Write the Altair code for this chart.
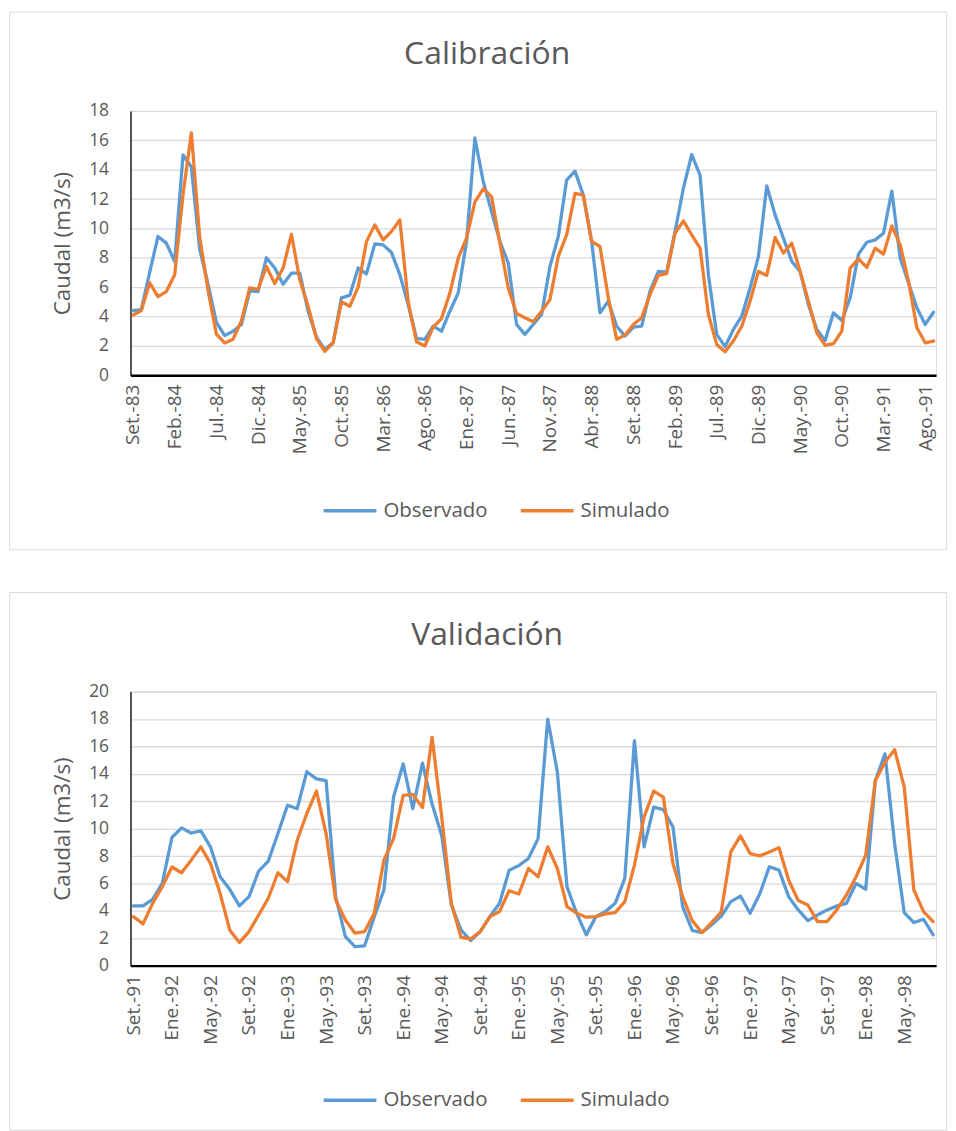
import altair as alt
import pandas as pd

# ---------------- data ----------------
MESES = ["Ene.", "Feb.", "Mar.", "Abr.", "May.", "Jun.", "Jul.", "Ago.", "Set.", "Oct.", "Nov.", "Dic."]

# Calibración: Set.-83 ... Set.-91 (monthly)
cal_obs = [4.4, 4.47, 7.0, 9.45, 9.0, 7.75, 15.0, 14.2, 8.6, 6.2, 3.6, 2.7, 3.0, 3.45, 5.75, 5.7,
           8.0, 7.3, 6.2, 6.95, 6.95, 4.36,
           2.6, 1.76, 2.21, 5.27, 5.45, 7.3, 6.9, 8.95, 8.88, 8.36, 6.85, 4.81, 2.51, 2.44, 3.34, 3.0,
           4.36, 5.6, 9.1, 16.16, 13.2, 11.14, 9.1, 7.64,
           3.46, 2.78, 3.46, 4.14, 7.41, 9.45, 13.29, 13.9, 12.27, 9.11, 4.25, 5.04, 3.34, 2.67, 3.28,
           3.34, 5.72, 7.07, 7.03, 9.79, 12.72, 15.03, 13.63, 6.85, 2.78,
           1.95, 3.12, 4.02, 5.94, 8.09, 12.9, 10.92, 9.33, 7.75, 7.07, 4.81, 3.12, 2.37, 4.25, 3.73,
           5.27, 8.25, 9.06, 9.22, 9.67, 12.54, 7.98, 6.28, 4.59, 3.46, 4.29]
cal_sim = [4.1, 4.4, 6.3, 5.35, 5.7, 6.85, 12.3, 16.5, 9.4, 5.8, 2.8, 2.2, 2.45, 3.7, 5.95, 5.85,
           7.4, 6.25, 7.3, 9.6, 6.5, 4.7,
           2.5, 1.62, 2.2, 5.0, 4.7, 6.0, 9.1, 10.24, 9.22, 9.8, 10.58, 5.0, 2.28, 1.99, 3.28, 3.86,
           5.6, 7.98, 9.33, 11.8, 12.7, 12.16, 9.0, 5.94,
           4.2, 3.91, 3.64, 4.36, 5.15, 8.09, 9.56, 12.38, 12.27, 9.11, 8.77, 5.27, 2.44, 2.73, 3.46,
           3.91, 5.49, 6.8, 6.92, 9.67, 10.51, 9.56, 8.66, 4.14, 2.1,
           1.6, 2.33, 3.34, 5.04, 7.07, 6.8, 9.38, 8.32, 8.99, 7.07, 5.04, 2.89, 2.03, 2.15, 3.0,
           7.3, 7.93, 7.34, 8.66, 8.25, 10.17, 8.88, 6.4, 3.23, 2.21, 2.33]

# Validación: Set.-91 ... Ago.-98 (monthly)
val_obs = [4.36, 4.36, 4.84, 6.0, 9.35, 10.05, 9.68, 9.83, 8.67, 6.49, 5.57, 4.36, 5.04, 6.9, 7.63,
           9.64, 11.7, 11.45, 14.15,
           13.63, 13.5, 5.04, 2.13, 1.4, 1.45, 3.58, 5.52, 12.3, 14.72, 11.45, 14.77, 11.8, 9.5, 4.43,
           2.61, 1.84, 2.49, 3.58, 4.55, 6.97, 7.3,
           7.82, 9.27, 17.99, 14.12, 5.76, 3.83, 2.25, 3.58, 3.95, 4.55, 6.37, 16.42, 8.67, 11.57,
           11.38, 10.12, 4.31, 2.57, 2.42, 2.98, 3.6, 4.67,
           5.08, 3.83, 5.23, 7.22, 6.97, 5.04, 4.07, 3.29, 3.7, 4.07, 4.36, 4.55, 6.0, 5.57, 13.51,
           15.45, 8.91, 3.87, 3.15, 3.39, 2.25]
val_sim = [3.58, 3.05, 4.55, 5.76, 7.2, 6.78, 7.7, 8.67, 7.46, 5.28, 2.61, 1.69, 2.49, 3.7, 4.92,
           6.78, 6.13, 9.15, 11.1,
           12.74, 9.64, 4.79, 3.34, 2.37, 2.49, 3.83, 7.7, 9.27, 12.42, 12.49, 11.53, 16.66, 10.85,
           4.55, 2.08, 1.94, 2.49, 3.58, 3.95, 5.47, 5.23,
           7.09, 6.49, 8.67, 7.09, 4.31, 3.83, 3.54, 3.58, 3.78, 3.87, 4.67, 7.34, 10.85, 12.74, 12.3,
           7.46, 5.04, 3.29, 2.42, 3.15, 3.9, 8.3,
           9.47, 8.18, 8.01, 8.3, 8.6, 6.25, 4.75, 4.43, 3.22, 3.22, 4.07, 5.16, 6.49, 8.06, 13.51,
           14.84, 15.76, 13.03, 5.52, 3.95, 3.22]

SERIES = ["Observado", "Simulado"]
COLORES = ["#5B9BD5", "#ED7D31"]


def meses_desde(anio, mes_idx, n):
    out = []
    for i in range(n):
        m = (mes_idx + i) % 12
        a = anio + (mes_idx + i) // 12
        out.append(f"{MESES[m]}-{a % 100:02d}")
    return out


cal_meses = meses_desde(1983, 8, len(cal_obs))
val_meses = meses_desde(1991, 8, len(val_obs))
cal_ticks = cal_meses[0:96:5]
val_ticks = val_meses[0:81:4]

TXT = "#595959"
FONT = "Open Sans"
W = 809


def panel(titulo, meses, obs, sim, ymax, ticks, height, legend_y):
    df = pd.DataFrame({
        "Mes": meses + meses,
        "Serie": [SERIES[0]] * len(meses) + [SERIES[1]] * len(meses),
        "Caudal": obs + sim,
    })
    borde = alt.Chart(pd.DataFrame({"k": [0]})).mark_rect(
        fill="transparent", stroke="#d9d9d9", strokeWidth=1
    ).encode(
        x=alt.value(-121.3), x2=alt.value(819.7),
        y=alt.value(-99.3), y2=alt.value(440.7),
    )
    lineas = alt.Chart(df).mark_line(
        strokeWidth=3.3, strokeJoin="round", strokeCap="round"
    ).encode(
        x=alt.X("Mes:N", sort=meses,
                scale=alt.Scale(type="point", padding=0.3),
                axis=alt.Axis(values=ticks, title=None, labelAngle=270, labelFontSize=19,
                              labelColor=TXT, labelFont=FONT, labelPadding=9, labelOverlap=False,
                              ticks=False, tickSize=0, grid=False, domainColor="#000000",
                              domainWidth=2.3)),
        y=alt.Y("Caudal:Q", scale=alt.Scale(domain=[0, ymax], nice=False, zero=True),
                axis=alt.Axis(values=list(range(0, ymax + 1, 2)), title="Caudal (m3/s)",
                              titleFontSize=22.5, titleFontWeight="normal", titleColor=TXT,
                              titleFont=FONT, titlePadding=14, labelFontSize=17.5, labelColor=TXT,
                              labelFont=FONT, labelPadding=22, ticks=False, tickSize=0,
                              grid=True, gridColor="#d9d9d9", gridWidth=1.3,
                              domainColor="#000000", domainWidth=1.3)),
        color=alt.Color("Serie:N", scale=alt.Scale(domain=SERIES, range=COLORES),
                        legend=alt.Legend(orient="none", legendX=192, legendY=legend_y,
                                          direction="horizontal", title=None,
                                          symbolType="stroke", symbolSize=2809,
                                          symbolStrokeWidth=3.3, labelFontSize=20.5,
                                          labelColor=TXT, labelFont=FONT, columnPadding=26,
                                          labelOffset=5, padding=0)),
    )
    return alt.layer(borde, lineas).properties(
        width=W, height=height,
        title=alt.TitleParams(titulo, fontSize=32, fontWeight="normal", color=TXT, font=FONT,
                              anchor="middle", frame="bounds", offset=-60, dx=9),
    )


cal = panel("Calibración", cal_meses, cal_obs, cal_sim, 18, cal_ticks, 265.4, 373)
val = panel("Validación", val_meses, val_obs, val_sim, 20, val_ticks, 275.4, 382)

chart = alt.vconcat(cal, val, spacing=40).resolve_scale(color="independent").resolve_legend(
    color="independent"
).properties(padding=0).configure_view(strokeWidth=0).configure(font=FONT)

chart.save("out.html", embed_options={"renderer": "svg", "actions": False})
